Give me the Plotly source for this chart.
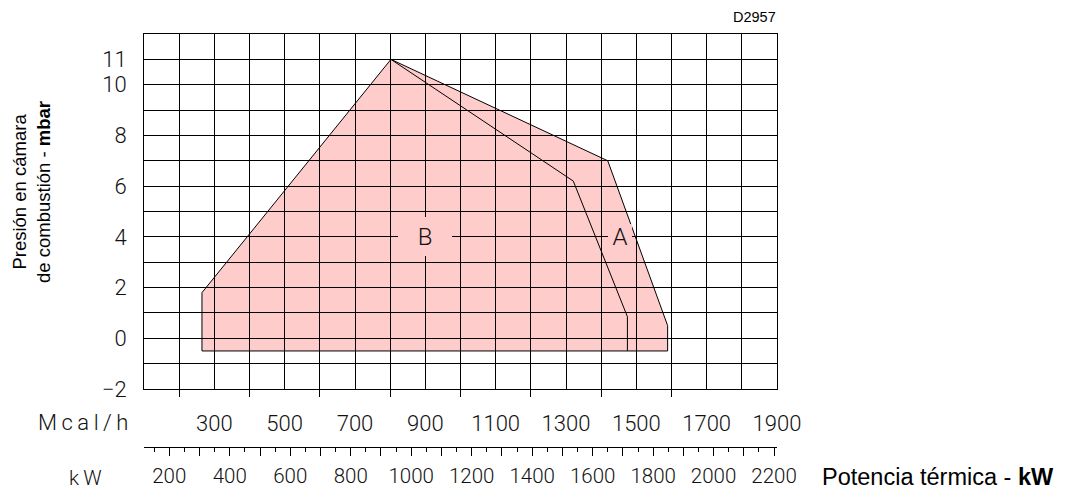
import plotly.graph_objects as go

KW_PER_MCAL = 1.163  # 1 Mcal/h = 1.163 kW

# ---- data (kW, mbar) ----
envelope_a_kw = [308, 308, 933, 1650, 1848, 1848]
envelope_a_mbar = [-0.5, 1.8, 11.0, 7.0, 0.5, -0.5]

boundary_b_kw = [933, 1536, 1715, 1715]
boundary_b_mbar = [11.0, 6.2, 0.85, -0.5]

region_names = ["B", "A"]
region_kw = [1046, 1692]
region_mbar = [4, 4]

# ---- axes ticks ----
mcal_range = [100, 1900]
mcal_grid = list(range(100, 2000, 100))
mcal_ticks = list(range(200, 1700, 200))
mcal_labels = [300, 500, 700, 900, 1100, 1300, 1500, 1700, 1900]

kw_major = list(range(200, 2300, 100))
kw_minor = list(range(150, 2250, 100))
kw_labels = [200, 400, 600, 800, 1000, 1200, 1400, 1600, 1800, 2000, 2200]

mbar_range = [-2, 12]
mbar_grid = list(range(-2, 13))
mbar_labels = [-2, 0, 2, 4, 6, 8, 10, 11]

FILL = "#ffcccc"
THIN = dict(family="Roboto, Liberation Sans, sans-serif", size=22, color="#111", weight=300)
THIN_KW = dict(THIN, size=20.5)
SANS = "Liberation Sans, Arial, sans-serif"

# page layout (the html body adds an 8px offset)
OFF = 8
FIG_W, FIG_H = 1067 - OFF, 490 - OFF
PLOT_L, PLOT_R, PLOT_T, PAPER_B = 144, 776.7, 34, 460   # page pixels
W = PLOT_R - PLOT_L
H = PAPER_B - PLOT_T


def px_x(p):
    return (p - PLOT_L) / W


def px_y(p):
    return (PAPER_B - p) / H


kw_range = [mcal_range[0] * KW_PER_MCAL, mcal_range[1] * KW_PER_MCAL]

fig = go.Figure()

# filled operating envelope (below grid)
path = "M " + " L ".join(f"{x},{y}" for x, y in zip(envelope_a_kw, envelope_a_mbar)) + " Z"
fig.add_shape(type="path", path=path, xref="x", yref="y", layer="below",
              fillcolor=FILL, line=dict(width=0))

# outline A
fig.add_trace(go.Scatter(
    x=envelope_a_kw + envelope_a_kw[:1], y=envelope_a_mbar + envelope_a_mbar[:1],
    mode="lines", line=dict(color="black", width=1), showlegend=False, hoverinfo="skip"))
# boundary B
fig.add_trace(go.Scatter(
    x=boundary_b_kw, y=boundary_b_mbar,
    mode="lines", line=dict(color="black", width=1), showlegend=False, hoverinfo="skip"))

# dummy traces so overlay axes are drawn
fig.add_trace(go.Scatter(x=[None], y=[None], xaxis="x2", yaxis="y", showlegend=False, hoverinfo="skip"))
fig.add_trace(go.Scatter(x=[None], y=[None], xaxis="x3", yaxis="y", showlegend=False, hoverinfo="skip"))

fig.update_layout(
    width=FIG_W, height=FIG_H,
    template="none",
    margin=dict(l=PLOT_L - OFF, r=FIG_W - (PLOT_R - OFF), t=PLOT_T - OFF,
                b=FIG_H - (PAPER_B - OFF), pad=0),
    paper_bgcolor="white", plot_bgcolor="white",
    showlegend=False,
    xaxis=dict(
        domain=[0, 1], range=kw_range, anchor="y",
        tickmode="array", tickvals=[m * KW_PER_MCAL for m in mcal_ticks],
        ticks="outside", ticklen=7, tickwidth=1, tickcolor="black",
        showticklabels=False,
        showgrid=True, gridcolor="black", gridwidth=1,
        minor=dict(tickmode="array", tickvals=[m * KW_PER_MCAL for m in mcal_grid],
                   showgrid=True, gridcolor="black", gridwidth=1, ticks=""),
        showline=True, linecolor="black", linewidth=1, mirror=True,
        zeroline=False, fixedrange=True,
    ),
    xaxis2=dict(
        overlaying="x", anchor="free", position=px_y(446.5), side="bottom",
        range=kw_range,
        tickmode="array", tickvals=kw_major,
        ticktext=[str(v) if v in kw_labels else "" for v in kw_major],
        ticks="outside", ticklen=8, tickwidth=1, tickcolor="black",
        minor=dict(tickmode="array", tickvals=kw_minor, ticks="outside", ticklen=4,
                   tickwidth=1, tickcolor="black", showgrid=False),
        showline=True, linecolor="black", linewidth=1,
        showgrid=False, zeroline=False, tickfont=THIN_KW, ticklabelstandoff=3,
    ),
    xaxis3=dict(
        overlaying="x", anchor="free", position=px_y(408), side="bottom",
        range=mcal_range,
        tickmode="array", tickvals=mcal_labels,
        ticks="", showline=False, showgrid=False, zeroline=False,
        tickfont=THIN,
    ),
    yaxis=dict(
        domain=[px_y(389), 1], range=mbar_range,
        tickmode="array", tickvals=mbar_labels,
        ticks="", showgrid=True, gridcolor="black", gridwidth=1,
        minor=dict(tickmode="array", tickvals=mbar_grid, showgrid=True,
                   gridcolor="black", gridwidth=1, ticks=""),
        showline=True, linecolor="black", linewidth=1, mirror=True,
        zeroline=False, tickfont=THIN, ticklabelstandoff=12, fixedrange=True,
    ),
)

# region labels with background boxes that hide the grid
box_sizes = {"B": (50, 35), "A": (20, 22)}
for name, xk, ym in zip(region_names, region_kw, region_mbar):
    w, h = box_sizes[name]
    fig.add_annotation(x=xk, y=ym, xref="x", yref="y", text=name, showarrow=False,
                       bgcolor=FILL, borderpad=2, borderwidth=0, width=w, height=h,
                       font=dict(family=THIN["family"], size=24, color="#111", weight=300),
                       xanchor="center", yanchor="middle")

# unit labels and titles
fig.add_annotation(x=px_x(130), y=px_y(422.5), xref="paper", yref="paper",
                   text="M\u2009c\u2009a\u2009l\u2009/\u2009h", showarrow=False,
                   xanchor="right", yanchor="middle", font=THIN)
fig.add_annotation(x=px_x(104), y=px_y(477.5), xref="paper", yref="paper",
                   text="k\u2009W", showarrow=False,
                   xanchor="right", yanchor="middle", font=THIN_KW)
fig.add_annotation(x=px_x(820), y=px_y(476.5), xref="paper", yref="paper",
                   text="Potencia térmica - <b>kW</b>", showarrow=False,
                   xanchor="left", yanchor="middle",
                   font=dict(family=SANS, size=23.5, color="black"))
fig.add_annotation(x=px_x(778), y=px_y(17.5), xref="paper", yref="paper",
                   text="D2957", showarrow=False,
                   xanchor="right", yanchor="middle",
                   font=dict(family=SANS, size=14.5, color="black"))
fig.add_annotation(x=px_x(31), y=px_y(192), xref="paper", yref="paper",
                   text="Presión en cámara<br>de combustión - <b>mbar</b>",
                   textangle=-90, showarrow=False,
                   xanchor="center", yanchor="middle",
                   font=dict(family=SANS, size=18.5, color="black"))

fig.write_html("out.html")
